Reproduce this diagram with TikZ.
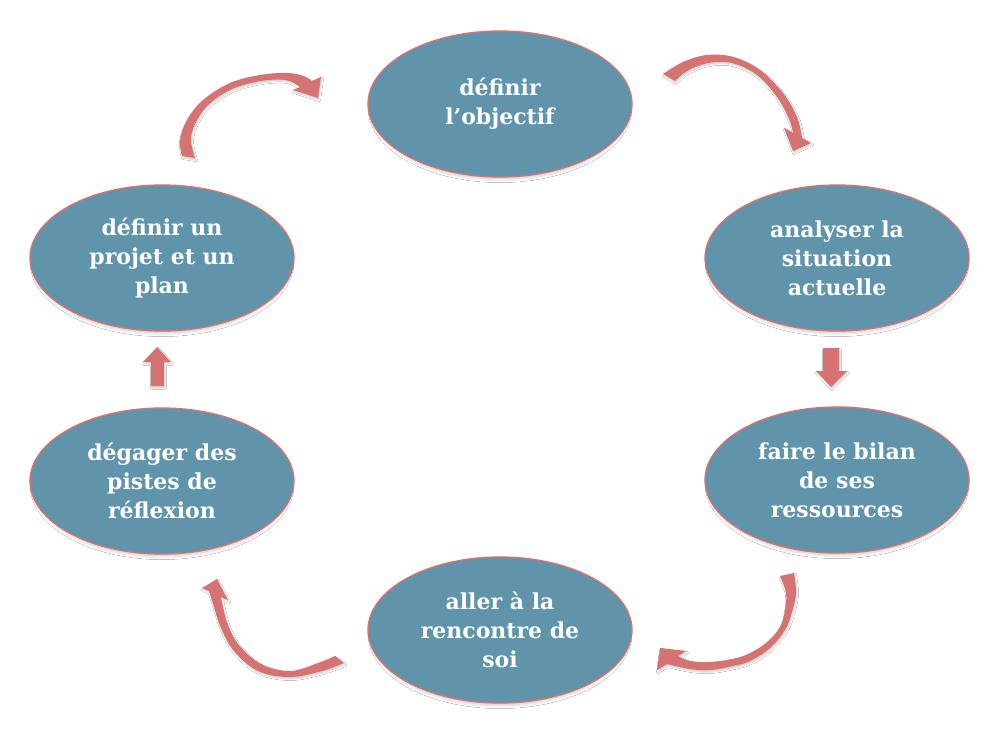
\documentclass[tikz,border=0pt]{standalone}
\usepackage{fontspec}
\setmainfont{DejaVu Serif}
\usetikzlibrary{shapes.geometric,shadows.blur}
\definecolor{ellfill}{HTML}{5F94AB}
\definecolor{ellline}{HTML}{D9716F}
\definecolor{arrfill}{HTML}{D47371}
\tikzset{
  ell/.style={ellipse, draw=ellline, line width=1.3pt, fill=ellfill,
    minimum width=264pt, minimum height=146pt, inner sep=0pt, text=white,
    font=\bfseries\fontsize{22}{29}\selectfont, align=center,
    blur shadow={shadow xshift=0pt, shadow yshift=-4pt, shadow scale=0.97, shadow blur radius=4pt, shadow opacity=25}},
  blockarrow/.style={fill=arrfill,
    blur shadow={shadow xshift=1pt, shadow yshift=-2pt, shadow blur radius=1.5pt, shadow opacity=18}}
}
\begin{document}
\begin{tikzpicture}[x=1pt,y=-1pt]
\fill[white] (0,0) rectangle (999,745);
\useasboundingbox (0,0) rectangle (999,745);

\node[ell] (n1) at (500,104) {définir\\l’objectif};
\node[ell] (n2) at (837,258) {analyser la\\situation\\actuelle};
\node[ell] (n3) at (837,480) {faire le bilan\\de ses\\ressources};
\node[ell] (n4) at (500,630) {aller à la\\rencontre de\\soi};
\node[ell] (n5) at (162,481) {dégager des\\pistes de\\réflexion};
\node[ell] (n6) at (162,258) {définir un\\projet et un\\plan};

% curved arrow top right (n1 -> n2)
\path[blockarrow] plot[smooth,tension=0.6] coordinates {(663,74) (683,62) (707,55) (733,57) (760,70) (783,93) (797,117) (802,138)}
  -- (811,143) -- (793,151) -- (784,128)
  -- plot[smooth,tension=0.6] coordinates {(793,133) (789,119) (777,97) (757,75) (732,63) (708,63) (687,71) (675,81)}
  -- cycle;

% curved arrow bottom right (n3 -> n4)
\path[blockarrow] plot[smooth,tension=0.6] coordinates {(794,573) (796,593) (792,612) (785,630) (770,648) (750,661) (733,666) (710,670) (690,669) (667,664)}
  -- (657,670) -- (660,648) -- (686,651)
  -- plot[smooth,tension=0.6] coordinates {(678,656) (690,661) (710,662) (732,659) (748,654) (766,643) (780,627) (785,610) (786,593) (780,576)}
  -- cycle;

% curved arrow bottom left (n4 -> n5)
\path[blockarrow] plot[smooth,tension=0.6] coordinates {(344,663) (322,671) (290,677) (258,671) (234,651) (221,628) (214,607) (209,591)}
  -- (202,588) -- (217,579) -- (228,600)
  -- plot[smooth,tension=0.6] coordinates {(221,597) (223,607) (228,625) (239,645) (261,664) (290,671) (318,663) (335,656)}
  -- cycle;

% curved arrow top left (n6 -> n1)
\path[blockarrow] plot[smooth,tension=0.6] coordinates {(182,156) (180,140) (187,120) (203,100) (230,83) (260,75) (287,73) (303,76) (312,81)}
  -- (321,77) -- (318,98) -- (293,90)
  -- plot[smooth,tension=0.6] coordinates {(300,87) (286,80) (261,81) (232,89) (208,105) (195,124) (191,140) (195,158)}
  -- cycle;

% straight arrows
\path[blockarrow] (823,348) -- (839,348) -- (839,371) -- (847,371) -- (831,387)
  -- (816,371) -- (823,371) -- cycle;
\path[blockarrow] (151,386) -- (164,386) -- (164,362) -- (171,362) -- (157,347)
  -- (143,362) -- (151,362) -- cycle;
\end{tikzpicture}
\end{document}
